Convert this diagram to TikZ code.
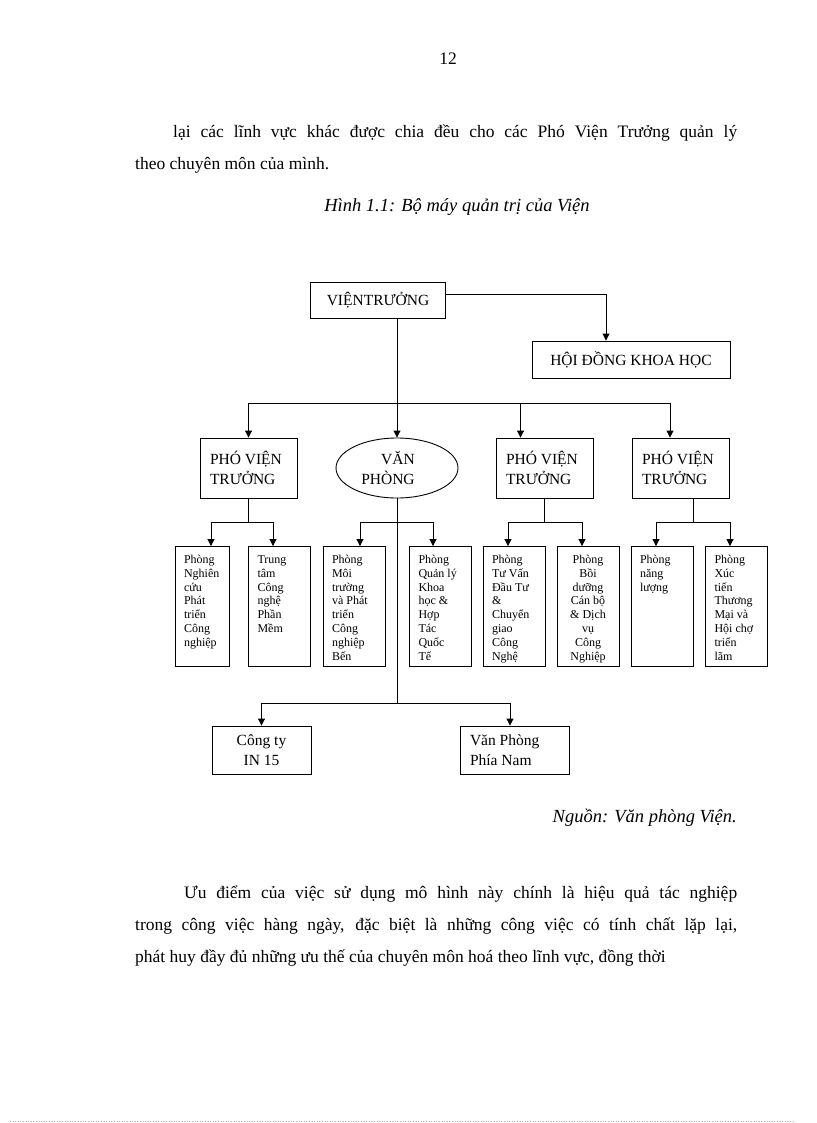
\documentclass[tikz,border=0pt]{standalone}
\usepackage{fontspec}
\setmainfont{Liberation Serif}
\usetikzlibrary{arrows.meta,shapes.geometric}

\tikzset{
  orgbox/.style={draw, rectangle, line width=0.9pt, inner sep=0pt, font=\fontsize{15.5}{19.5}\selectfont},
  dept/.style={draw, rectangle, line width=0.9pt, inner xsep=9pt, inner ysep=7pt, font=\fontsize{12}{13.9}\selectfont},
  link/.style={line width=0.9pt},
  arr/.style={link, -{Triangle[length=7pt,width=7pt]}},
  body/.style={inner sep=0pt, anchor=base west, font=\fontsize{17.5}{20}\selectfont},
  note/.style={inner sep=0pt, font=\fontsize{18.5}{21}\selectfont\itshape},
}
\newcommand{\depttext}[3][\raggedright]{\parbox[c][106pt][t]{#2}{#1\strut #3}}

\begin{document}
\begin{tikzpicture}[x=1pt,y=-1pt]
  \useasboundingbox (0,0) rectangle (816,1123);
  \fill[white] (0,0) rectangle (816,1123);

  \node[body, anchor=base] (PNUM) at (448,65) {12};
  \node[body] (L1) at (173,138) {\makebox[564pt][s]{lại  các lĩnh vực khác được chia  đều cho các Phó Viện  Trưởng quản lý}};
  \node[body] (L2) at (135,170) {theo chuyên môn của mình.};
  \node[note, anchor=base] (CAP) at (457,212) {Hình 1.1: Bộ máy quản trị của Viện};

  %% top level
  \node[orgbox, minimum width=135pt, minimum height=36pt] (VT) at (378,300) {VIỆNTRƯỞNG};
  \node[orgbox, minimum width=198pt, minimum height=37pt] (HDKH) at (631,359.5) {HỘI ĐỒNG KHOA HỌC};

  %% second level
  \node[orgbox, minimum width=97pt, minimum height=60pt] (PVTA) at (248.5,468) {\parbox{77pt}{PHÓ VIỆN\\TRƯỞNG}};
  \node[orgbox, ellipse, minimum width=122pt, minimum height=60pt, align=right] (VP) at (397,468) {VĂN\hspace*{18pt}\\PHÒNG\hspace*{18pt}};
  \node[orgbox, minimum width=97pt, minimum height=60pt] (PVTB) at (544.5,468) {\parbox{77pt}{PHÓ VIỆN\\TRƯỞNG}};
  \node[orgbox, minimum width=97pt, minimum height=60pt] (PVTC) at (680.5,468) {\parbox{77pt}{PHÓ VIỆN\\TRƯỞNG}};

  %% departments
  \node[dept] (PNC)   at (202,606.5)   {\depttext{36pt}{Phòng\\Nghiên\\cứu\\Phát\\triển\\Công\\nghiệp}};
  \node[dept] (TTPM)  at (279.5,606.5) {\depttext{44pt}{Trung\\tâm\\Công\\nghệ\\Phần\\Mềm}};
  \node[dept] (PMT)   at (354,606.5)   {\depttext{44pt}{Phòng\\Môi\\trường\\và Phát\\triển\\Công\\nghiệp\\Bến}};
  \node[dept] (PQLKH) at (440.5,606.5) {\depttext{44pt}{Phòng\\Quản lý\\Khoa\\học \&\\Hợp\\Tác\\Quốc\\Tế}};
  \node[dept] (PTV)   at (514,606.5)   {\depttext{44pt}{Phòng\\Tư Vấn\\Đầu Tư\\\&\\Chuyển\\giao\\Công\\Nghệ}};
  \node[dept] (PBD)   at (588,606.5)   {\depttext[\centering]{44pt}{Phòng\\Bồi\\dưỡng\\Cán bộ\\\& Dịch\\vụ\\Công\\Nghiệp}};
  \node[dept] (PNL)   at (662,606.5)   {\depttext{44pt}{Phòng\\năng\\lượng}};
  \node[dept] (PXT)   at (736.5,606.5) {\depttext{44pt}{Phòng\\Xúc\\tiến\\Thương\\Mại và\\Hội chợ\\triển\\lãm}};

  %% under the office
  \node[orgbox, minimum width=99pt, minimum height=48pt, align=center] (CTIN) at (261.5,750) {Công ty\\IN 15};
  \node[orgbox, minimum width=109pt, minimum height=48pt] (VPPN) at (514.5,750) {\parbox{89pt}{Văn Phòng\\Phía Nam}};

  \coordinate (J1) at (397,403);
  \coordinate (J3) at (397,522);
  \coordinate (J4) at (397,703);

  \draw[arr] ([yshift=6pt]VT.east) -| ([xshift=-25pt]HDKH.north);
  \draw[link] (VT.south -| J1) -- (J1);
  \draw[arr] (J1) -| (PVTA.north);
  \draw[arr] (J1) -- (VP.north);
  \draw[arr] (J1) -| ([xshift=-24pt]PVTB.north);
  \draw[arr] (J1) -| ([xshift=-10.5pt]PVTC.north);

  \draw[arr] (PVTA.south) -- ++(0,24) -| ([xshift=9pt]PNC.north);
  \draw[arr] (PVTA.south) -- ++(0,24) -| ([xshift=-6.5pt]TTPM.north);
  \draw[link] (VP.south) -- (J4);
  \draw[arr] (J3) -| ([xshift=6pt]PMT.north);
  \draw[arr] (J3) -| ([xshift=-7.5pt]PQLKH.north);
  \draw[arr] (PVTB.south) -- ++(0,24) -| ([xshift=-6pt]PTV.north);
  \draw[arr] (PVTB.south) -- ++(0,24) -| ([xshift=-6pt]PBD.north);
  \draw[arr] ([xshift=12.5pt]PVTC.south) -- ++(0,24) -| ([xshift=-6pt]PNL.north);
  \draw[arr] ([xshift=12.5pt]PVTC.south) -- ++(0,24) -| ([xshift=-6.5pt]PXT.north);
  \draw[arr] (J4) -| (CTIN.north);
  \draw[arr] (J4) -| ([xshift=-4.5pt]VPPN.north);

  \node[note, anchor=base east] (SRC) at (737,822) {Nguồn: Văn phòng Viện.};

  \node[body] (P1) at (184,898) {\makebox[553pt][s]{Ưu điểm của việc sử dụng mô hình này chính là hiệu quả tác nghiệp}};
  \node[body] (P2) at (135,930) {\makebox[602pt][s]{trong công việc hàng ngày, đặc biệt là những công việc có tính chất lặp lại,}};
  \node[body] (P3) at (135,962) {phát huy đầy đủ những ưu thế của chuyên môn hoá theo lĩnh vực, đồng thời};

  \draw[gray!60, line width=0.6pt, dotted] (10,1121) -- (795,1121);
\end{tikzpicture}
\end{document}
